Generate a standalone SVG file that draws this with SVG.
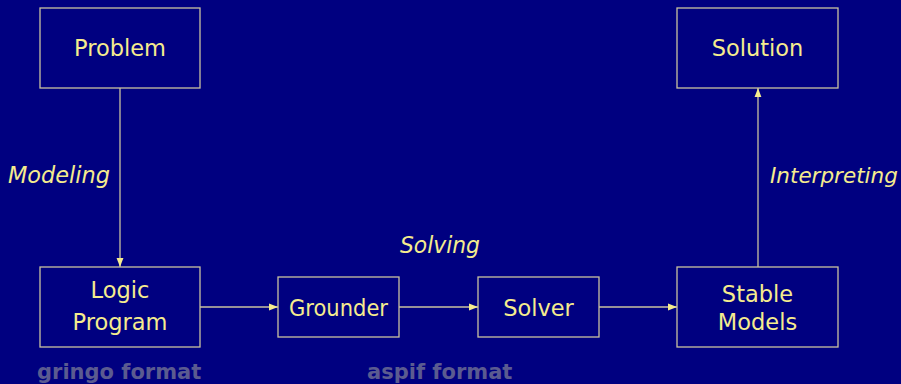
<svg xmlns="http://www.w3.org/2000/svg" width="901" height="384" viewBox="0 0 901 384">
  <defs>
    <marker id="arrow" viewBox="0 0 10 10" refX="10" refY="5" markerWidth="9" markerHeight="9" markerUnits="userSpaceOnUse" orient="auto">
      <path d="M0,1.2 L10,5 L0,8.8 Z" fill="#f5ec8e"/>
    </marker>
    <style>
      .box { fill: none; stroke: #c9c2a0; stroke-width: 1.3; }
      .lbl { font-family: "DejaVu Sans", "Liberation Sans", sans-serif; font-size: 22.5px; fill: #f5ec8e; text-anchor: middle; }
      .step { font-family: "DejaVu Sans", "Liberation Sans", sans-serif; font-size: 22.5px; font-style: italic; fill: #f5ec8e; }
      .fmt { font-family: "DejaVu Sans", "Liberation Sans", sans-serif; font-size: 21px; font-weight: bold; fill: #5b5b90; }
      .edge { stroke: #c9c2a0; stroke-width: 1.3; fill: none; marker-end: url(#arrow); }
    </style>
  </defs>
  <rect width="901" height="384" fill="#000080"/>

  <g id="connectors">
    <line class="edge" x1="120" y1="88" x2="120" y2="267"/>
    <line class="edge" x1="200" y1="307" x2="278" y2="307"/>
    <line class="edge" x1="399" y1="307" x2="478" y2="307"/>
    <line class="edge" x1="599" y1="307" x2="677" y2="307"/>
    <line class="edge" x1="758" y1="267" x2="758" y2="88"/>
  </g>

  <g id="problem">
    <rect class="box" x="40" y="8" width="160" height="80"/>
    <text class="lbl" x="120" y="56">Problem</text>
  </g>
  <g id="logic-program">
    <rect class="box" x="40" y="267" width="160" height="80"/>
    <text class="lbl" x="120" y="298">Logic</text>
    <text class="lbl" x="120" y="330">Program</text>
  </g>
  <g id="grounder">
    <rect class="box" x="278" y="277" width="121" height="60"/>
    <text class="lbl" x="338.5" y="316" textLength="99" lengthAdjust="spacingAndGlyphs">Grounder</text>
  </g>
  <g id="solver">
    <rect class="box" x="478" y="277" width="121" height="60"/>
    <text class="lbl" x="538.5" y="316">Solver</text>
  </g>
  <g id="stable-models">
    <rect class="box" x="677" y="267" width="161" height="80"/>
    <text class="lbl" x="757.5" y="302">Stable</text>
    <text class="lbl" x="757.5" y="330">Models</text>
  </g>
  <g id="solution">
    <rect class="box" x="677" y="8" width="161" height="80"/>
    <text class="lbl" x="757.5" y="56">Solution</text>
  </g>

  <g id="labels">
    <text class="step" x="8" y="183" textLength="102" lengthAdjust="spacingAndGlyphs">Modeling</text>
    <text class="step" x="400" y="253" textLength="80" lengthAdjust="spacingAndGlyphs">Solving</text>
    <text class="step" x="770" y="183" style="font-size:21.5px">Interpreting</text>
    <text class="fmt" x="37" y="379">gringo format</text>
    <text class="fmt" x="367" y="379">aspif format</text>
  </g>
</svg>
